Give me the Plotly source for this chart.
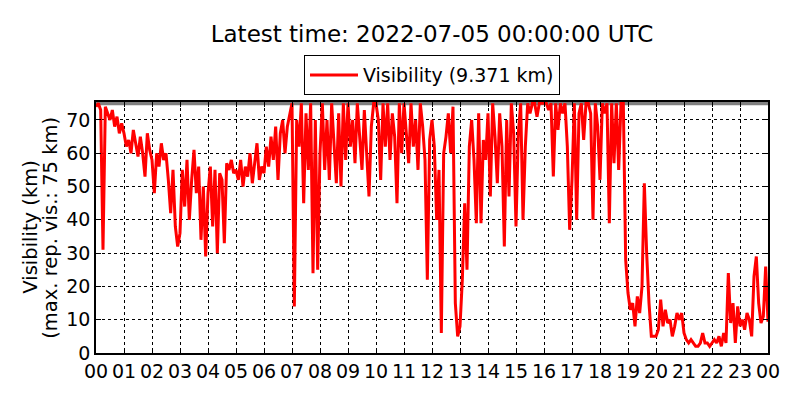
import pandas as pd
import plotly.graph_objects as go

# visibility in km, one value every 5 minutes, 2022-07-04 00:00 -> 2022-07-05 00:00
vis_h00 = [74, 75, 73, 31, 74, 72, 70, 73, 68, 71, 66, 69]
vis_h01 = [66, 62, 64, 60, 67, 63, 59, 65, 60, 53, 66, 61]
vis_h02 = [58, 48, 60, 56, 63, 58, 60, 52, 42, 55, 38, 32]
vis_h03 = [36, 55, 44, 58, 40, 52, 61, 48, 56, 34, 50, 29]
vis_h04 = [48, 56, 38, 55, 30, 54, 52, 33, 57, 55, 58, 54]
vis_h05 = [55, 52, 58, 50, 56, 53, 60, 51, 58, 63, 52, 56]
vis_h06 = [54, 62, 56, 65, 58, 68, 52, 66, 70, 60, 68, 72]
vis_h07 = [75, 14, 70, 62, 75, 45, 72, 55, 75, 24, 70, 25]
vis_h08 = [60, 75, 55, 70, 52, 75, 62, 51, 72, 50, 75, 58]
vis_h09 = [75, 62, 70, 57, 75, 65, 55, 73, 60, 47, 68, 75]
vis_h10 = [75, 70, 52, 75, 62, 75, 58, 72, 65, 45, 75, 60]
vis_h11 = [75, 65, 57, 75, 62, 70, 55, 75, 68, 58, 22, 64]
vis_h12 = [70, 62, 40, 55, 6, 60, 65, 72, 60, 74, 15, 5]
vis_h13 = [8, 22, 45, 25, 62, 70, 58, 39, 72, 39, 64, 58]
vis_h14 = [72, 47, 75, 65, 51, 72, 62, 32, 70, 47, 75, 66]
vis_h15 = [38, 66, 75, 40, 62, 75, 72, 75, 75, 71, 75, 75]
vis_h16 = [75, 75, 73, 75, 53, 75, 67, 75, 72, 75, 62, 37]
vis_h17 = [52, 75, 40, 72, 75, 64, 75, 75, 72, 40, 75, 68]
vis_h18 = [52, 75, 72, 75, 39, 75, 57, 75, 55, 75, 75, 28]
vis_h19 = [18, 13, 15, 8, 17, 12, 20, 51, 30, 15, 5, 5]
vis_h20 = [5, 7, 16, 8, 13, 9, 10, 5, 8, 12, 10, 12]
vis_h21 = [6, 4, 3, 4, 3, 2, 2, 3, 6, 3, 3, 2]
vis_h22 = [3, 4, 3, 5, 2, 6, 3, 24, 9, 15, 3, 14]
vis_h23 = [8, 10, 7, 12, 10, 5, 23, 29, 15, 9, 11, 26]
vis_last = [9.371]

visibility = (vis_h00 + vis_h01 + vis_h02 + vis_h03 + vis_h04 + vis_h05 + vis_h06
              + vis_h07 + vis_h08 + vis_h09 + vis_h10 + vis_h11 + vis_h12 + vis_h13
              + vis_h14 + vis_h15 + vis_h16 + vis_h17 + vis_h18 + vis_h19 + vis_h20
              + vis_h21 + vis_h22 + vis_h23 + vis_last)
times = pd.date_range("2022-07-04 00:00", periods=len(visibility), freq="5min")

max_vis = 75
t_start = "2022-07-04 00:00"
t_end = "2022-07-05 00:00"
ylabel_lines = ["Visibility (km)", "(max. rep. vis.: 75 km)"]

fig = go.Figure()

# max reportable visibility
fig.add_trace(go.Scatter(x=[t_start, t_end], y=[max_vis, max_vis], mode="lines",
                         line=dict(color="gray", width=4), showlegend=False,
                         hoverinfo="skip"))

fig.add_trace(go.Scatter(x=times, y=visibility, mode="lines",
                         name="Visibility (9.371 km)",
                         line=dict(color="red", width=3)))

axis_common = dict(showline=True, linecolor="black", linewidth=1.5, mirror="ticks",
                   ticks="inside", ticklen=5, tickcolor="black", automargin=False,
                   showgrid=True, gridcolor="black", griddash="dot", gridwidth=1,
                   zeroline=False, tickfont=dict(size=19, color="black"))

# y label as two rotated annotations, to get the tighter line spacing
for xpos, line in zip([-0.098, -0.068], ylabel_lines):
    fig.add_annotation(text=line, xref="paper", yref="paper", x=xpos, y=0.5,
                       xanchor="center", yanchor="middle", textangle=-90,
                       showarrow=False, font=dict(size=19.5))

# page body adds 8px offset, margins compensate
fig.update_layout(
    width=800, height=400,
    margin=dict(l=88, r=40, t=94, b=55),
    plot_bgcolor="white", paper_bgcolor="white",
    font=dict(family="DejaVu Sans", color="black"),
    title=dict(text="Latest time: 2022-07-05 00:00:00 UTC", x=0.5, xref="paper",
               xanchor="center", y=0.935, yanchor="middle", font=dict(size=23)),
    legend=dict(orientation="h", x=0.5, xanchor="center", y=1.187, yanchor="top",
                bordercolor="black", borderwidth=1, font=dict(size=19),
                itemwidth=48),
    xaxis=dict(range=[t_start, t_end], dtick=3600000, tickformat="%H",
               **axis_common),
    yaxis=dict(range=[0, 75.4], dtick=10, **axis_common),
)

fig.write_html("out.html")
